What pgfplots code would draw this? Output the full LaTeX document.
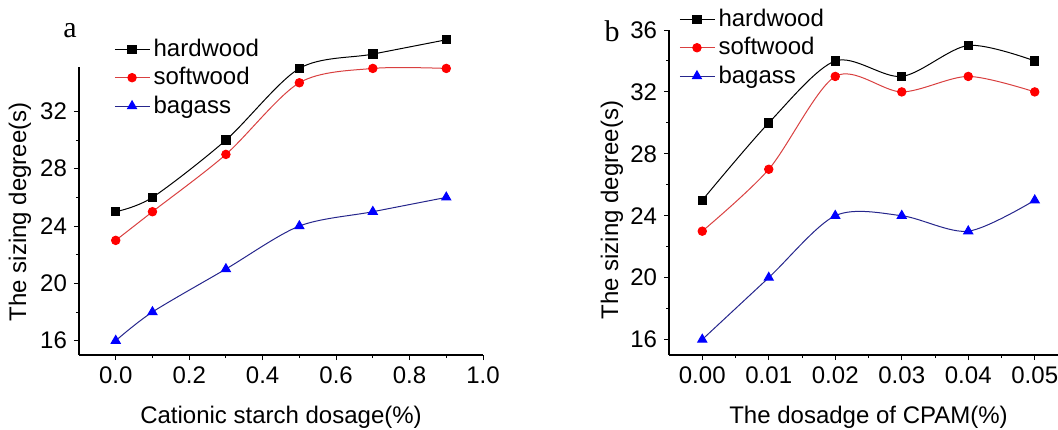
\documentclass[border=0pt]{standalone}
\usepackage{fontspec}
\setmainfont{Liberation Sans}
\newfontfamily\serifa{Liberation Serif}
\usepackage{pgfplots}
\pgfplotsset{compat=1.18}
\definecolor{navy}{rgb}{0.15,0.15,0.55}
\definecolor{lred}{rgb}{0.85,0.25,0.25}
\pgfplotsset{
  common/.style={
    scale only axis, axis lines*=left, axis line style={line width=0.6pt,-},
    tick align=outside, major tick length=2.5pt, minor tick length=1.5pt,
    every tick/.style={line width=0.5pt, black},
    /pgf/number format/assume math mode=true,
    tick label style={font=\fontsize{12}{14}\selectfont},
    label style={font=\fontsize{12}{14}\selectfont},
    legend style={draw=none, fill=none, font=\fontsize{12}{14}\selectfont, anchor=north west, row sep=0pt},
    legend cell align=left,
    clip=false,
  },
  hw/.style={black, line width=0.5pt, mark=square*, mark size=2.1pt, smooth, tension=0.5, mark options={solid,fill=black}},
  sw/.style={lred, line width=0.5pt, mark=*, mark size=2.1pt, smooth, tension=0.5, mark options={solid,fill=red,draw=red}},
  bg/.style={navy, line width=0.5pt, mark=triangle*, mark size=2.6pt, smooth, tension=0.5, mark options={solid,fill=blue,draw=blue}},
}
\begin{document}
\begin{tikzpicture}
\useasboundingbox (0pt,0pt) rectangle (529pt,214.5pt);
\clip (0pt,0pt) rectangle (529pt,214.5pt);
\begin{axis}[common,
  at={(39.5pt,37pt)}, anchor=south west,
  width=202pt, height=144pt,
  xmin=-0.1, xmax=1.0, ymin=15, ymax=35.1,
  xtick={0,0.2,0.4,0.6,0.8,1.0}, minor x tick num=1,
  ytick={16,20,24,28,32}, minor y tick num=1,
  xticklabel style={/pgf/number format/.cd, fixed, fixed zerofill, precision=1},
  xlabel={Cationic starch dosage(\%)},
  ylabel={The sizing degree(s)},
  xlabel style={at={(axis description cs:0.5,-0.215)}, anchor=center},
  ylabel style={at={(axis description cs:-0.146,0.497)}, anchor=center},
  legend style={at={(axis description cs:0.072,1.126)}},
]
\addplot[hw] coordinates {(0,25) (0.1,26) (0.3,30) (0.5,35) (0.7,36) (0.9,37)};
\addlegendentry{hardwood}
\addplot[sw] coordinates {(0,23) (0.1,25) (0.3,29) (0.5,34) (0.7,35) (0.9,35)};
\addlegendentry{softwood}
\addplot[bg] coordinates {(0,16) (0.1,18) (0.3,21) (0.5,24) (0.7,25) (0.9,26)};
\addlegendentry{bagass}
\end{axis}
\begin{axis}[common,
  at={(334.5pt,37pt)}, anchor=south west,
  width=199.5pt, height=162.5pt,
  xmin=-0.005, xmax=0.055, ymin=15, ymax=36,
  xtick={0,0.01,0.02,0.03,0.04,0.05}, minor x tick num=1,
  ytick={16,20,24,28,32,36}, minor y tick num=1,
  scaled x ticks=false,
  xticklabel style={/pgf/number format/.cd, fixed, fixed zerofill, precision=2},
  xlabel={The dosadge of CPAM(\%)},
  ylabel={The sizing degree(s)},
  xlabel style={at={(axis description cs:0.5,-0.191)}, anchor=center},
  ylabel style={at={(axis description cs:-0.143,0.446)}, anchor=center},
  legend style={at={(axis description cs:0.01,1.09)}},
]
\addplot[hw] coordinates {(0,25) (0.01,30) (0.02,34) (0.03,33) (0.04,35) (0.05,34)};
\addlegendentry{hardwood}
\addplot[sw] coordinates {(0,23) (0.01,27) (0.02,33) (0.03,32) (0.04,33) (0.05,32)};
\addlegendentry{softwood}
\addplot[bg] coordinates {(0,16) (0.01,20) (0.02,24) (0.03,24) (0.04,23) (0.05,25)};
\addlegendentry{bagass}
\end{axis}
\node[font=\serifa\fontsize{15}{17}\selectfont] at (35pt,199pt) {a};
\node[font=\serifa\fontsize{15}{17}\selectfont] at (306pt,199pt) {b};
\end{tikzpicture}
\end{document}
